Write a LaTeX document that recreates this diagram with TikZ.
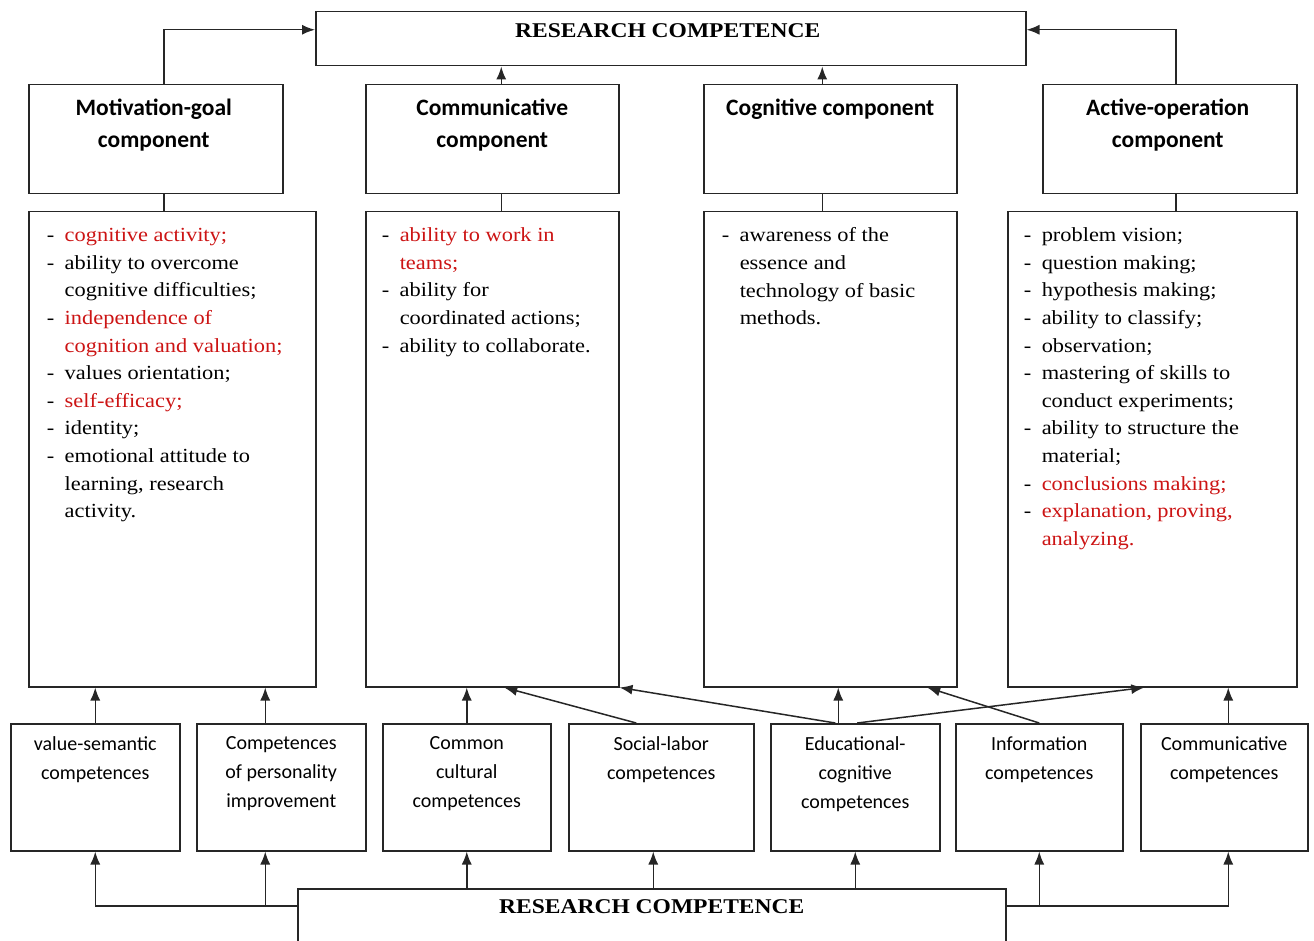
\documentclass[tikz,border=0pt]{standalone}
\usepackage{fontspec}
\setmainfont{Liberation Serif}[FakeStretch=1.12]
\newfontfamily\calfont{Carlito}
\usetikzlibrary{arrows.meta,positioning}
\definecolor{itemred}{RGB}{204,20,20}
\newcommand{\itm}[1]{\makebox[18pt][l]{-}#1}
\newcommand{\cnt}[1]{\hspace*{18pt}#1}

\begin{document}
\begin{tikzpicture}[x=1pt,y=-1pt,line width=1.5pt,
  box/.style={draw=black!85,rectangle,inner sep=0pt,anchor=north west},
  headtext/.style={font=\calfont\bfseries\fontsize{23.5}{32}\selectfont,align=center,anchor=north,inner sep=0pt},
  comptext/.style={font=\calfont\fontsize{20}{29}\selectfont,align=center,anchor=north,inner sep=0pt},
  items/.style={font=\fontsize{20}{27.6}\selectfont,align=left,anchor=north west,inner sep=0pt},
  titletext/.style={font=\bfseries\fontsize{21}{24}\selectfont,inner sep=0pt},
  arr/.style={draw=black!85,-{Latex[length=13pt,width=10pt]}},
  link/.style={draw=black!85}]
\useasboundingbox (0,0) rectangle (1314,941);
\clip (0,0) rectangle (1314,941);

% Research competence (top)
\node[box,minimum width=710pt,minimum height=54pt] (top) at (315,11) {};
\node[titletext] (toptxt) at ([xshift=-3pt,yshift=-20pt]top.north) {RESEARCH COMPETENCE};

% Components
\node[box,minimum width=254pt,minimum height=109pt] (motiv) at (28,84) {};
\node[box,minimum width=253pt,minimum height=109pt] (comm) at (365,84) {};
\node[box,minimum width=253pt,minimum height=109pt] (cogn) at (703,84) {};
\node[box,minimum width=254pt,minimum height=109pt] (activ) at (1042,84) {};
\node[headtext] (motivtxt) at ([xshift=-2pt,yshift=-14pt]motiv.north) {Motivation-goal\\component};
\node[headtext] (commtxt) at ([yshift=-14pt]comm.north) {Communicative\\component};
\node[headtext] (cogntxt) at ([yshift=-14pt]cogn.north) {Cognitive component};
\node[headtext] (activtxt) at ([xshift=-2pt,yshift=-14pt]activ.north) {Active-operation\\component};

% Lists
\node[box,minimum width=287pt,minimum height=475pt] (motivlist) at (28,211) {};
\node[box,minimum width=253pt,minimum height=475pt] (commlist) at (365,211) {};
\node[box,minimum width=253pt,minimum height=475pt] (cognlist) at (703,211) {};
\node[box,minimum width=289pt,minimum height=475pt] (activlist) at (1007,211) {};

\node[items] (motivitems) at ([xshift=18pt,yshift=-16pt]motivlist.north west) {%
\rule{0pt}{14pt}\itm{\textcolor{itemred}{cognitive activity;}}\\
\itm{ability to overcome}\\
\cnt{cognitive difficulties;}\\
\itm{\textcolor{itemred}{independence of}}\\
\cnt{\textcolor{itemred}{cognition and valuation;}}\\
\itm{values orientation;}\\
\itm{\textcolor{itemred}{self-efficacy;}}\\
\itm{identity;}\\
\itm{emotional attitude to}\\
\cnt{learning, research}\\
\cnt{activity.}};
\node[items] (commitems) at ([xshift=16pt,yshift=-16pt]commlist.north west) {%
\rule{0pt}{14pt}\itm{\textcolor{itemred}{ability to work in}}\\
\cnt{\textcolor{itemred}{teams;}}\\
\itm{ability for}\\
\cnt{coordinated actions;}\\
\itm{ability to collaborate.}};
\node[items] (cognitems) at ([xshift=18pt,yshift=-16pt]cognlist.north west) {%
\rule{0pt}{14pt}\itm{awareness of the}\\
\cnt{essence and}\\
\cnt{technology of basic}\\
\cnt{methods.}};
\node[items] (activitems) at ([xshift=16pt,yshift=-16pt]activlist.north west) {%
\rule{0pt}{14pt}\itm{problem vision;}\\
\itm{question making;}\\
\itm{hypothesis making;}\\
\itm{ability to classify;}\\
\itm{observation;}\\
\itm{mastering of skills to}\\
\cnt{conduct experiments;}\\
\itm{ability to structure the}\\
\cnt{material;}\\
\itm{\textcolor{itemred}{conclusions making;}}\\
\itm{\textcolor{itemred}{explanation, proving,}}\\
\cnt{\textcolor{itemred}{analyzing.}}};

% Competences
\node[box,minimum width=169pt,minimum height=127pt] (valsem) at (10,723) {};
\node[box,minimum width=169pt,minimum height=127pt] (perscomp) at (196,723) {};
\node[box,minimum width=168pt,minimum height=127pt] (cultcomp) at (382,723) {};
\node[box,minimum width=185pt,minimum height=127pt] (soccomp) at (568,723) {};
\node[box,minimum width=169pt,minimum height=127pt] (educomp) at (770,723) {};
\node[box,minimum width=167pt,minimum height=127pt] (infocomp) at (955,723) {};
\node[box,minimum width=167pt,minimum height=127pt] (commcomp) at (1140,723) {};
\node[comptext] (valsemtxt) at ([yshift=-13pt]valsem.north) {value-semantic\\competences};
\node[comptext] (perstxt) at ([yshift=-13pt]perscomp.north) {Competences\\of personality\\improvement};
\node[comptext] (culttxt) at ([yshift=-13pt]cultcomp.north) {Common\\cultural\\competences};
\node[comptext] (soctxt) at ([yshift=-13pt]soccomp.north) {Social-labor\\competences};
\node[comptext] (edutxt) at ([yshift=-13pt]educomp.north) {Educational-\\cognitive\\competences};
\node[comptext] (infotxt) at ([yshift=-13pt]infocomp.north) {Information\\competences};
\node[comptext] (commcomptxt) at ([yshift=-13pt]commcomp.north) {Communicative\\competences};

% Research competence (bottom)
\node[box,minimum width=708pt,minimum height=100pt] (bottom) at (297,888) {};
\node[titletext] (bottomtxt) at ([yshift=-19pt]bottom.north) {RESEARCH COMPETENCE};
\coordinate (botleft) at ([yshift=-18pt]bottom.north west);
\coordinate (botright) at ([yshift=-18pt]bottom.north east);

% Components to research competence
\draw[arr] ([xshift=8pt]motiv.north) |- ([yshift=9pt]top.west);
\draw[arr] ([xshift=9pt]comm.north) -- ([xshift=9pt]comm.north |- top.south);
\draw[arr] ([xshift=-8pt]cogn.north) -- ([xshift=-8pt]cogn.north |- top.south);
\draw[arr] ([xshift=6pt]activ.north) |- ([yshift=9pt]top.east);
\draw[link] ([xshift=8pt]motiv.south) -- ([xshift=8pt]motiv.south |- motivlist.north);
\draw[link] ([xshift=9pt]comm.south) -- ([xshift=9pt]comm.south |- commlist.north);
\draw[link] ([xshift=-8pt]cogn.south) -- ([xshift=-8pt]cogn.south |- cognlist.north);
\draw[link] ([xshift=6pt]activ.south) -- ([xshift=6pt]activ.south |- activlist.north);

% Competences to components
\draw[arr] (valsem.north) -- (valsem.north |- motivlist.south);
\draw[arr] ([xshift=-16pt]perscomp.north) -- ([xshift=-16pt]perscomp.north |- motivlist.south);
\draw[arr] (cultcomp.north) -- (cultcomp.north |- commlist.south);
\draw[arr] ([xshift=-25pt]soccomp.north) -- ([xshift=12pt]commlist.south);
\draw[arr] ([xshift=-20pt]educomp.north) -- (commlist.south east);
\draw[arr] ([xshift=-17pt]educomp.north) -- ([xshift=-17pt]educomp.north |- cognlist.south);
\draw[arr] ([xshift=2pt]educomp.north) -- ([xshift=-8pt]activlist.south);
\draw[arr] (infocomp.north) -- ([xshift=97pt]cognlist.south);
\draw[arr] ([xshift=4pt]commcomp.north) -- ([xshift=4pt]commcomp.north |- activlist.south);

% Research competence to competences
\draw[arr] (botleft) -| (valsem.south);
\draw[arr] ([xshift=-16pt]perscomp.south |- botleft) -- ([xshift=-16pt]perscomp.south);
\draw[arr] (cultcomp.south |- bottom.north) -- (cultcomp.south);
\draw[arr] ([xshift=-8pt]soccomp.south |- bottom.north) -- ([xshift=-8pt]soccomp.south);
\draw[arr] (educomp.south |- bottom.north) -- (educomp.south);
\draw[arr] (botright) -| ([xshift=4pt]commcomp.south);
\draw[arr] (infocomp.south |- botright) -- (infocomp.south);
\end{tikzpicture}
\end{document}
